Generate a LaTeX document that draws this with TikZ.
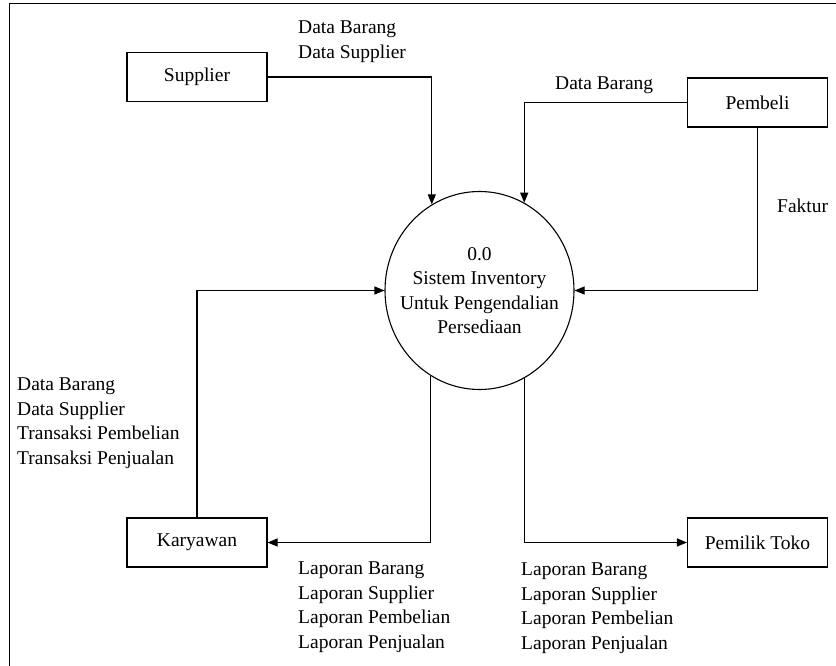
\documentclass[tikz,border=0pt]{standalone}
\usepackage{fontspec}
\setmainfont{Liberation Serif}
\usetikzlibrary{arrows.meta,shapes.geometric}
\tikzset{
  ent/.style={draw, line width=1.1pt, minimum width=140pt, minimum height=49pt, inner sep=0pt},
  proc/.style={draw, ellipse, line width=1.1pt, minimum width=189pt, minimum height=198pt, inner sep=0pt},
  flow/.style={line width=1.1pt, -{Triangle[length=10pt,width=8pt]}},
  lbl/.style={anchor=north west, inner sep=0pt, align=left},
  every node/.style={font=\fontsize{19.5}{24.5}\selectfont},
}
\begin{document}
\begin{tikzpicture}[x=1pt,y=-1pt]
\useasboundingbox (0,0) rectangle (836,666);
\draw[line width=1.6pt] (9.5,670) -- (9.5,3.5) -- (840,3.5);

\node[ent] (sup) at (197,77) {Supplier};
\node[ent] (pem) at (757.5,102.5) {Pembeli};
\node[ent] (kar) at (197,542.5) {Karyawan};
\node[ent] (pt) at (757.5,542.5) {Pemilik Toko};
\node[proc] (p0) at (479.5,290.5) {};
\node[align=center, inner sep=0pt] (p0t) at (p0.center) {0.0\\Sistem Inventory\\Untuk Pengendalian\\Persediaan};

\draw[flow] (sup.east) -| (p0.119.7);
\draw[flow] (pem.west) -| (p0.63);
\draw[flow] (pem.south) |- (p0.east);
\draw[flow] (kar.north) |- (p0.west);
\draw[flow] (p0.240.3) |- (kar.east);
\draw[flow] (p0.297) |- (pt.west);

\node[lbl] (l1) at (298,21) {Data Barang\\Data Supplier};
\node[lbl] (l2) at (555,77) {Data Barang};
\node[lbl] (l3) at (777,199) {Faktur};
\node[lbl] (l4) at (17,378) {Data Barang\\Data Supplier\\Transaksi Pembelian\\Transaksi Penjualan};
\node[lbl] (l5) at (298,562) {Laporan Barang\\Laporan Supplier\\Laporan Pembelian\\Laporan Penjualan};
\node[lbl] (l6) at (521,563) {Laporan Barang\\Laporan Supplier\\Laporan Pembelian\\Laporan Penjualan};
\end{tikzpicture}
\end{document}
